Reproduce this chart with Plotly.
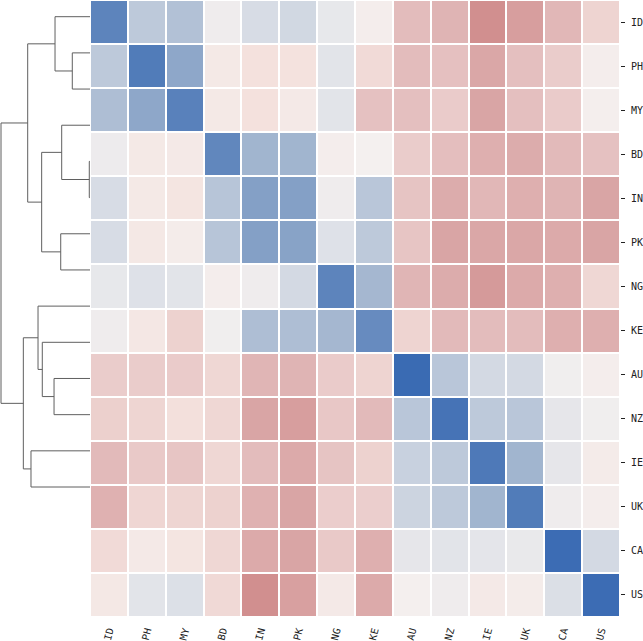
import plotly.graph_objects as go

# Country order as shown (dendrogram leaf order)
countries = ['ID', 'PH', 'MY', 'BD', 'IN', 'PK', 'NG', 'KE',
             'AU', 'NZ', 'IE', 'UK', 'CA', 'US']

# Cell values (rows top to bottom, columns left to right)
row_ID = [0.80, 0.30, 0.36, 0.03, 0.16, 0.19, 0.07, -0.03, -0.50, -0.58, -0.92, -0.78, -0.55, -0.28]
row_PH = [0.30, 0.86, 0.55, -0.08, -0.16, -0.15, 0.10, -0.22, -0.50, -0.46, -0.70, -0.47, -0.35, -0.03]
row_MY = [0.38, 0.55, 0.82, -0.08, -0.16, -0.07, 0.10, -0.45, -0.47, -0.36, -0.72, -0.47, -0.36, -0.02]
row_BD = [0.04, -0.08, -0.07, 0.78, 0.45, 0.45, -0.03, 0.00, -0.35, -0.48, -0.62, -0.65, -0.52, -0.45]
row_IN = [0.16, -0.08, -0.12, 0.33, 0.60, 0.60, 0.03, 0.32, -0.43, -0.65, -0.55, -0.62, -0.58, -0.72]
row_PK = [0.16, -0.09, -0.04, 0.33, 0.60, 0.58, 0.12, 0.30, -0.42, -0.72, -0.70, -0.70, -0.67, -0.72]
row_NG = [0.07, 0.12, 0.10, -0.03, 0.03, 0.18, 0.80, 0.43, -0.57, -0.65, -0.82, -0.67, -0.62, -0.25]
row_KE = [0.03, -0.10, -0.30, 0.02, 0.38, 0.38, 0.43, 0.75, -0.28, -0.52, -0.50, -0.50, -0.62, -0.62]
row_AU = [-0.35, -0.35, -0.36, -0.25, -0.57, -0.58, -0.36, -0.28, 0.98, 0.32, 0.18, 0.18, 0.02, -0.03]
row_NZ = [-0.32, -0.27, -0.17, -0.25, -0.72, -0.78, -0.40, -0.52, 0.32, 0.92, 0.30, 0.32, 0.08, 0.02]
row_IE = [-0.52, -0.38, -0.42, -0.25, -0.50, -0.67, -0.43, -0.30, 0.24, 0.30, 0.88, 0.45, 0.08, -0.05]
row_UK = [-0.60, -0.26, -0.27, -0.30, -0.60, -0.72, -0.34, -0.33, 0.22, 0.30, 0.45, 0.86, 0.03, -0.03]
row_CA = [-0.22, -0.07, -0.12, -0.25, -0.67, -0.72, -0.38, -0.62, 0.08, 0.10, 0.09, 0.06, 0.97, 0.18]
row_US = [-0.09, 0.10, 0.13, -0.23, -0.92, -0.76, -0.07, -0.67, -0.01, 0.03, -0.07, -0.04, 0.14, 0.97]

matrix = [row_ID, row_PH, row_MY, row_BD, row_IN, row_PK, row_NG,
          row_KE, row_AU, row_NZ, row_IE, row_UK, row_CA, row_US]

# Linkage (scipy style): leaves are 0..13, each merge creates cluster 14, 15, ...
merge_left = [1, 0, 4, 3, 6, 17, 15, 10, 9, 8, 12, 23, 20]
merge_right = [2, 14, 5, 16, 7, 18, 19, 11, 21, 22, 13, 24, 25]
merge_height = [0.199, 0.393, 0.008, 0.318, 0.329, 0.543, 0.700,
                0.404, 0.536, 0.584, 0.663, 0.749, 1.000]

# Diverging colour scale (red = low, blue = high)
colorscale = [
    [0.000, 'rgb(205,135,135)'],
    [0.250, 'rgb(227,188,188)'],
    [0.425, 'rgb(244,226,222)'],
    [0.500, 'rgb(244,240,239)'],
    [0.550, 'rgb(226,228,233)'],
    [0.750, 'rgb(152,174,203)'],
    [1.000, 'rgb(54,104,178)'],
]

# Build dendrogram segments from the linkage
n = len(countries)
pos = {i: 5 + 10 * i for i in range(n)}
height = {i: 0.0 for i in range(n)}
dx, dy = [], []
for k, (a, b, h) in enumerate(zip(merge_left, merge_right, merge_height)):
    dx += [height[a], h, h, height[b], None]
    dy += [pos[a], pos[a], pos[b], pos[b], None]
    pos[n + k] = (pos[a] + pos[b]) / 2
    height[n + k] = h

W, H = 643, 641
left_edge, right_edge, bottom_edge = 90, 620, 617

fig = go.Figure()

fig.add_trace(go.Scatter(
    x=dx, y=dy, mode='lines',
    line=dict(color='rgb(95,95,95)', width=1),
    hoverinfo='skip', showlegend=False,
    xaxis='x', yaxis='y'
))

fig.add_trace(go.Heatmap(
    z=matrix, x=countries, y=countries,
    colorscale=colorscale, zmin=-1, zmax=1,
    xgap=2, ygap=2, showscale=False,
    xaxis='x2', yaxis='y2',
    hovertemplate='%{y} / %{x}: %{z:.2f}<extra></extra>'
))

mono = dict(family='DejaVu Sans Mono', size=10, color='#222222')
ydom = [(H - bottom_edge) / H, 1]

fig.update_layout(
    width=W, height=H,
    margin=dict(l=0, r=0, t=0, b=0),
    plot_bgcolor='white',
    paper_bgcolor='white',
    showlegend=False,

    # Dendrogram axes
    xaxis=dict(domain=[0, left_edge / W], range=[1.0112, 0],
               visible=False, fixedrange=True),
    yaxis=dict(domain=ydom, range=[170.93, 0.384],
               visible=False, fixedrange=True),

    # Heatmap axes
    xaxis2=dict(domain=[left_edge / W, right_edge / W], anchor='y2',
                tickangle=-75, ticks='', tickfont=mono,
                ticklabelstandoff=5,
                showgrid=False, zeroline=False, showline=False),
    yaxis2=dict(domain=ydom, anchor='x2', side='right',
                autorange='reversed', ticks='outside', ticklen=4,
                tickwidth=1, tickcolor='#222222', tickfont=mono,
                ticklabelstandoff=4,
                showgrid=False, zeroline=False, showline=False),
)

# drop the default page margin so the figure sits at the window's corner
fig.write_html("out.html", config={'displayModeBar': False},
               post_script="document.body.style.margin='0';")
